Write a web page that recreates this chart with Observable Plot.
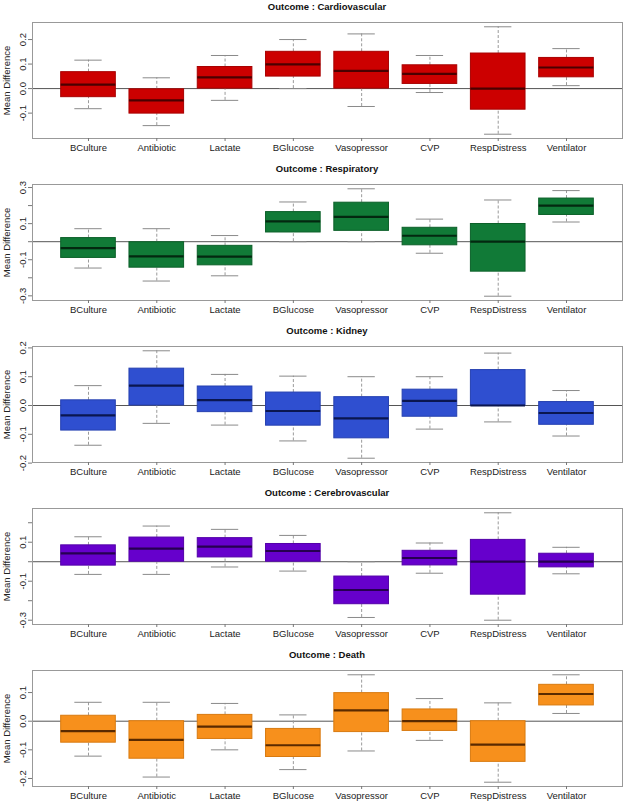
<!DOCTYPE html>
<html>
<head>
<meta charset="utf-8">
<script src="https://cdn.jsdelivr.net/npm/d3@7"></script>
<script src="https://cdn.jsdelivr.net/npm/@observablehq/plot@0.6"></script>
<style>
  html, body { margin: 0; padding: 0; background: #fff; }
  body { width: 625px; height: 802px; overflow: hidden; font-family: "Liberation Sans", Arial, sans-serif; }
  .title { height: 14px; line-height: 14px; font-size: 9.5px; font-weight: bold; color: #111;
           text-align: center; padding-left: 32px; padding-right: 3px; box-sizing: border-box; width: 625px; }
  svg { display: block; }
</style>
</head>
<body>
<div id="chart"></div>
<script>
// Categories (x axis)
const categories = ["BCulture", "Antibiotic", "Lactate", "BGlucose", "Vasopressor", "CVP", "RespDistress", "Ventilator"];

// Box statistics per category: [lower whisker, Q1, median, Q3, upper whisker]
const cardiovascular = [
  [-0.082, -0.035, 0.016, 0.067, 0.116],
  [-0.151, -0.102, -0.048, -0.003, 0.044],
  [-0.048, 0.000, 0.046, 0.088, 0.135],
  [0.000, 0.049, 0.099, 0.150, 0.200],
  [-0.073, 0.000, 0.072, 0.150, 0.223],
  [-0.016, 0.019, 0.060, 0.095, 0.135],
  [-0.186, -0.086, 0.000, 0.143, 0.252],
  [0.012, 0.046, 0.086, 0.125, 0.163]
];
const respiratory = [
  [-0.146, -0.090, -0.036, 0.020, 0.072],
  [-0.218, -0.144, -0.081, -0.003, 0.072],
  [-0.189, -0.131, -0.083, -0.023, 0.034],
  [0.000, 0.051, 0.112, 0.164, 0.220],
  [0.000, 0.060, 0.138, 0.216, 0.293],
  [-0.064, -0.020, 0.033, 0.077, 0.125],
  [-0.302, -0.166, 0.000, 0.098, 0.231],
  [0.109, 0.148, 0.200, 0.239, 0.283]
];
const kidney = [
  [-0.138, -0.087, -0.034, 0.018, 0.069],
  [-0.062, 0.000, 0.069, 0.128, 0.190],
  [-0.068, -0.023, 0.019, 0.066, 0.108],
  [-0.123, -0.070, -0.019, 0.045, 0.102],
  [-0.183, -0.114, -0.045, 0.029, 0.100],
  [-0.082, -0.039, 0.016, 0.055, 0.100],
  [-0.057, 0.000, 0.000, 0.123, 0.182],
  [-0.106, -0.067, -0.026, 0.012, 0.052]
];
const cerebrovascular = [
  [-0.065, -0.020, 0.043, 0.084, 0.128],
  [-0.065, 0.000, 0.067, 0.124, 0.183],
  [-0.027, 0.022, 0.077, 0.121, 0.166],
  [-0.048, 0.000, 0.055, 0.091, 0.135],
  [-0.286, -0.218, -0.145, -0.076, 0.000],
  [-0.059, -0.019, 0.019, 0.056, 0.096],
  [-0.300, -0.169, 0.000, 0.112, 0.251],
  [-0.062, -0.029, 0.000, 0.041, 0.074]
];
const death = [
  [-0.122, -0.075, -0.035, 0.019, 0.066],
  [-0.195, -0.131, -0.065, 0.000, 0.066],
  [-0.100, -0.062, -0.019, 0.022, 0.062],
  [-0.169, -0.125, -0.084, -0.027, 0.022],
  [-0.104, -0.038, 0.038, 0.098, 0.162],
  [-0.067, -0.034, 0.000, 0.041, 0.079],
  [-0.213, -0.142, -0.082, 0.000, 0.064],
  [0.027, 0.055, 0.095, 0.127, 0.162]
];

// Y tick values and their labels per panel
const cardioTicks = [-0.1, 0, 0.1, 0.2];
const cardioTickLabels = ["-0.1", "0.0", "0.1", "0.2"];
const respTicks = [-0.3, -0.2, -0.1, 0, 0.1, 0.2, 0.3];
const respTickLabels = ["-0.3", "", "-0.1", "", "0.1", "", "0.3"];
const kidneyTicks = [-0.2, -0.1, 0, 0.1, 0.2];
const kidneyTickLabels = ["-0.2", "-0.1", "0.0", "0.1", "0.2"];
const cerebroTicks = [-0.3, -0.2, -0.1, 0, 0.1, 0.2];
const cerebroTickLabels = ["-0.3", "", "-0.1", "", "0.1", ""];
const deathTicks = [-0.2, -0.1, 0, 0.1];
const deathTickLabels = ["-0.2", "-0.1", "0.0", "0.1"];

const outcomes = ["Cardiovascular", "Respiratory", "Kidney", "Cerebrovascular", "Death"];
const yLabel = "Mean Difference";

// Styles (kept separate from data)
const palette = {
  Cardiovascular:  {fill: "#cc0000", stroke: "#a80000", median: "#4a0000"},
  Respiratory:     {fill: "#117a37", stroke: "#0c6029", median: "#032810"},
  Kidney:          {fill: "#2f4fd0", stroke: "#2540b0", median: "#0a1650"},
  Cerebrovascular: {fill: "#6600cc", stroke: "#5300a8", median: "#260050"},
  Death:           {fill: "#f7901c", stroke: "#d87a10", median: "#5a2a00"}
};

const panels = [
  {name: outcomes[0], stats: cardiovascular, ticks: cardioTicks, labels: cardioTickLabels},
  {name: outcomes[1], stats: respiratory, ticks: respTicks, labels: respTickLabels},
  {name: outcomes[2], stats: kidney, ticks: kidneyTicks, labels: kidneyTickLabels},
  {name: outcomes[3], stats: cerebrovascular, ticks: cerebroTicks, labels: cerebroTickLabels},
  {name: outcomes[4], stats: death, ticks: deathTicks, labels: deathTickLabels}
];

const root = document.getElementById("chart");
const font = "'Liberation Sans', Arial, sans-serif";

for (const p of panels) {
  const rows = p.stats.map((s, i) => ({
    cat: categories[i], pos: i + 1, lo: s[0], q1: s[1], med: s[2], q3: s[3], hi: s[4]
  }));
  const dmin = d3.min(rows, d => d.lo), dmax = d3.max(rows, d => d.hi);
  const ext = (dmax - dmin) * 0.04;
  const n = categories.length;
  const xext = n * 0.04;
  const labelMap = new Map(p.ticks.map((t, i) => [t, p.labels[i]]));
  const col = palette[p.name];

  const title = document.createElement("div");
  title.className = "title";
  title.textContent = "Outcome : " + p.name;
  root.appendChild(title);

  const chart = Plot.plot({
    width: 625,
    height: 148,
    marginLeft: 32,
    marginRight: 3,
    marginTop: 8,
    marginBottom: 24,
    style: {fontFamily: font, fontSize: "9.5px", background: "#fff", color: "#222", overflow: "visible"},
    x: {type: "linear", domain: [0.5 - xext, n + 0.5 + xext], axis: null},
    y: {domain: [dmin - ext, dmax + ext], axis: null},
    marks: [
      Plot.ruleY([0], {stroke: "#555", strokeWidth: 1}),
      Plot.ruleX(rows, {x: "pos", y1: "lo", y2: "q1", stroke: "#9a9a9a", strokeDasharray: "3,2"}),
      Plot.ruleX(rows, {x: "pos", y1: "q3", y2: "hi", stroke: "#9a9a9a", strokeDasharray: "3,2"}),
      Plot.ruleY(rows, {y: "lo", x1: d => d.pos - 0.2, x2: d => d.pos + 0.2, stroke: "#8a8a8a"}),
      Plot.ruleY(rows, {y: "hi", x1: d => d.pos - 0.2, x2: d => d.pos + 0.2, stroke: "#8a8a8a"}),
      Plot.rect(rows, {x1: d => d.pos - 0.4, x2: d => d.pos + 0.4, y1: "q1", y2: "q3",
                       fill: col.fill, stroke: col.stroke, strokeWidth: 1}),
      Plot.ruleY(rows, {y: "med", x1: d => d.pos - 0.4, x2: d => d.pos + 0.4,
                        stroke: col.median, strokeWidth: 2.2}),
      Plot.frame({stroke: "#999"}),
      Plot.axisX({
        ticks: rows.map(d => d.pos),
        tickFormat: v => categories[v - 1],
        tickSize: 3,
        tickPadding: 3,
        stroke: "#777",
        fill: "#222",
        label: null
      }),
      Plot.axisY({
        ticks: p.ticks,
        tickFormat: v => labelMap.get(v),
        tickSize: 4,
        tickPadding: 3,
        tickRotate: -90,
        stroke: "#777",
        fill: "#222",
        label: null
      }),
      Plot.text([yLabel], {
        text: d => d,
        frameAnchor: "left",
        dx: -26,
        rotate: -90,
        textAnchor: "middle",
        lineAnchor: "middle",
        fill: "#222",
        fontSize: 9.5
      })
    ]
  });
  root.appendChild(chart);
}
</script>
</body>
</html>
